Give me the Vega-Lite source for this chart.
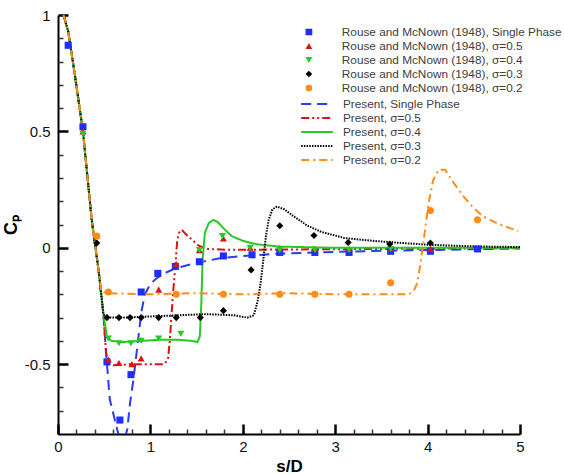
{
  "$schema": "https://vega.github.io/schema/vega-lite/v6.json",
  "width": 462,
  "height": 419,
  "autosize": "none",
  "padding": {"left": 58, "top": 15, "right": 44, "bottom": 40},
  "background": "white",
  "config": {"view": {"stroke": null}, "font": "Liberation Sans"},
  "datasets": {
    "curves": [
      {"series": "Present, Single Phase", "s": 0.06, "cp": 1.0},
      {"series": "Present, Single Phase", "s": 0.11, "cp": 0.93},
      {"series": "Present, Single Phase", "s": 0.18, "cp": 0.75},
      {"series": "Present, Single Phase", "s": 0.27, "cp": 0.5},
      {"series": "Present, Single Phase", "s": 0.31, "cp": 0.34},
      {"series": "Present, Single Phase", "s": 0.365, "cp": 0.12},
      {"series": "Present, Single Phase", "s": 0.44, "cp": -0.1},
      {"series": "Present, Single Phase", "s": 0.49, "cp": -0.28},
      {"series": "Present, Single Phase", "s": 0.52, "cp": -0.45},
      {"series": "Present, Single Phase", "s": 0.56, "cp": -0.65},
      {"series": "Present, Single Phase", "s": 0.64, "cp": -0.78},
      {"series": "Present, Single Phase", "s": 0.695, "cp": -0.86},
      {"series": "Present, Single Phase", "s": 0.75, "cp": -0.78},
      {"series": "Present, Single Phase", "s": 0.78, "cp": -0.665},
      {"series": "Present, Single Phase", "s": 0.815, "cp": -0.57},
      {"series": "Present, Single Phase", "s": 0.86, "cp": -0.42},
      {"series": "Present, Single Phase", "s": 0.9, "cp": -0.28},
      {"series": "Present, Single Phase", "s": 0.94, "cp": -0.2},
      {"series": "Present, Single Phase", "s": 1.0, "cp": -0.155},
      {"series": "Present, Single Phase", "s": 1.07, "cp": -0.13},
      {"series": "Present, Single Phase", "s": 1.15, "cp": -0.11},
      {"series": "Present, Single Phase", "s": 1.27, "cp": -0.088},
      {"series": "Present, Single Phase", "s": 1.5, "cp": -0.065},
      {"series": "Present, Single Phase", "s": 1.75, "cp": -0.045},
      {"series": "Present, Single Phase", "s": 2.0, "cp": -0.035},
      {"series": "Present, Single Phase", "s": 2.4, "cp": -0.025},
      {"series": "Present, Single Phase", "s": 3.0, "cp": -0.018},
      {"series": "Present, Single Phase", "s": 3.5, "cp": -0.013},
      {"series": "Present, Single Phase", "s": 4.0, "cp": -0.01},
      {"series": "Present, Single Phase", "s": 4.5, "cp": -0.006},
      {"series": "Present, Single Phase", "s": 5.0, "cp": -0.003},

      {"series": "Present, σ=0.5", "s": 0.06, "cp": 1.0},
      {"series": "Present, σ=0.5", "s": 0.11, "cp": 0.93},
      {"series": "Present, σ=0.5", "s": 0.18, "cp": 0.75},
      {"series": "Present, σ=0.5", "s": 0.27, "cp": 0.5},
      {"series": "Present, σ=0.5", "s": 0.31, "cp": 0.34},
      {"series": "Present, σ=0.5", "s": 0.365, "cp": 0.12},
      {"series": "Present, σ=0.5", "s": 0.44, "cp": -0.1},
      {"series": "Present, σ=0.5", "s": 0.49, "cp": -0.28},
      {"series": "Present, σ=0.5", "s": 0.52, "cp": -0.45},
      {"series": "Present, σ=0.5", "s": 0.545, "cp": -0.5},
      {"series": "Present, σ=0.5", "s": 0.6, "cp": -0.505},
      {"series": "Present, σ=0.5", "s": 0.8, "cp": -0.5},
      {"series": "Present, σ=0.5", "s": 1.0, "cp": -0.5},
      {"series": "Present, σ=0.5", "s": 1.15, "cp": -0.5},
      {"series": "Present, σ=0.5", "s": 1.19, "cp": -0.48},
      {"series": "Present, σ=0.5", "s": 1.21, "cp": -0.4},
      {"series": "Present, σ=0.5", "s": 1.24, "cp": -0.22},
      {"series": "Present, σ=0.5", "s": 1.27, "cp": -0.08},
      {"series": "Present, σ=0.5", "s": 1.29, "cp": 0.03},
      {"series": "Present, σ=0.5", "s": 1.31, "cp": 0.065},
      {"series": "Present, σ=0.5", "s": 1.34, "cp": 0.077},
      {"series": "Present, σ=0.5", "s": 1.38, "cp": 0.06},
      {"series": "Present, σ=0.5", "s": 1.45, "cp": 0.035},
      {"series": "Present, σ=0.5", "s": 1.52, "cp": 0.01},
      {"series": "Present, σ=0.5", "s": 1.6, "cp": -0.005},
      {"series": "Present, σ=0.5", "s": 1.8, "cp": -0.008},
      {"series": "Present, σ=0.5", "s": 2.2, "cp": -0.008},
      {"series": "Present, σ=0.5", "s": 3.0, "cp": -0.006},
      {"series": "Present, σ=0.5", "s": 4.0, "cp": -0.004},
      {"series": "Present, σ=0.5", "s": 5.0, "cp": -0.002},

      {"series": "Present, σ=0.4", "s": 0.06, "cp": 1.0},
      {"series": "Present, σ=0.4", "s": 0.11, "cp": 0.93},
      {"series": "Present, σ=0.4", "s": 0.18, "cp": 0.75},
      {"series": "Present, σ=0.4", "s": 0.27, "cp": 0.5},
      {"series": "Present, σ=0.4", "s": 0.31, "cp": 0.34},
      {"series": "Present, σ=0.4", "s": 0.365, "cp": 0.12},
      {"series": "Present, σ=0.4", "s": 0.44, "cp": -0.1},
      {"series": "Present, σ=0.4", "s": 0.49, "cp": -0.28},
      {"series": "Present, σ=0.4", "s": 0.53, "cp": -0.385},
      {"series": "Present, σ=0.4", "s": 0.58, "cp": -0.4},
      {"series": "Present, σ=0.4", "s": 0.7, "cp": -0.405},
      {"series": "Present, σ=0.4", "s": 0.9, "cp": -0.4},
      {"series": "Present, σ=0.4", "s": 1.1, "cp": -0.395},
      {"series": "Present, σ=0.4", "s": 1.3, "cp": -0.395},
      {"series": "Present, σ=0.4", "s": 1.45, "cp": -0.4},
      {"series": "Present, σ=0.4", "s": 1.51, "cp": -0.405},
      {"series": "Present, σ=0.4", "s": 1.535, "cp": -0.38},
      {"series": "Present, σ=0.4", "s": 1.55, "cp": -0.25},
      {"series": "Present, σ=0.4", "s": 1.565, "cp": -0.05},
      {"series": "Present, σ=0.4", "s": 1.59, "cp": 0.065},
      {"series": "Present, σ=0.4", "s": 1.63, "cp": 0.105},
      {"series": "Present, σ=0.4", "s": 1.68, "cp": 0.12},
      {"series": "Present, σ=0.4", "s": 1.73, "cp": 0.11},
      {"series": "Present, σ=0.4", "s": 1.8, "cp": 0.08},
      {"series": "Present, σ=0.4", "s": 1.88, "cp": 0.05},
      {"series": "Present, σ=0.4", "s": 2.0, "cp": 0.03},
      {"series": "Present, σ=0.4", "s": 2.15, "cp": 0.015},
      {"series": "Present, σ=0.4", "s": 2.4, "cp": 0.005},
      {"series": "Present, σ=0.4", "s": 3.0, "cp": 0.0},
      {"series": "Present, σ=0.4", "s": 4.0, "cp": 0.0},
      {"series": "Present, σ=0.4", "s": 5.0, "cp": 0.0},

      {"series": "Present, σ=0.3", "s": 0.06, "cp": 1.0},
      {"series": "Present, σ=0.3", "s": 0.11, "cp": 0.93},
      {"series": "Present, σ=0.3", "s": 0.18, "cp": 0.75},
      {"series": "Present, σ=0.3", "s": 0.27, "cp": 0.5},
      {"series": "Present, σ=0.3", "s": 0.31, "cp": 0.34},
      {"series": "Present, σ=0.3", "s": 0.365, "cp": 0.12},
      {"series": "Present, σ=0.3", "s": 0.44, "cp": -0.1},
      {"series": "Present, σ=0.3", "s": 0.49, "cp": -0.28},
      {"series": "Present, σ=0.3", "s": 0.51, "cp": -0.3},
      {"series": "Present, σ=0.3", "s": 0.7, "cp": -0.3},
      {"series": "Present, σ=0.3", "s": 1.0, "cp": -0.295},
      {"series": "Present, σ=0.3", "s": 1.3, "cp": -0.29},
      {"series": "Present, σ=0.3", "s": 1.6, "cp": -0.285},
      {"series": "Present, σ=0.3", "s": 1.9, "cp": -0.29},
      {"series": "Present, σ=0.3", "s": 2.05, "cp": -0.3},
      {"series": "Present, σ=0.3", "s": 2.12, "cp": -0.29},
      {"series": "Present, σ=0.3", "s": 2.16, "cp": -0.23},
      {"series": "Present, σ=0.3", "s": 2.19, "cp": -0.16},
      {"series": "Present, σ=0.3", "s": 2.22, "cp": -0.06},
      {"series": "Present, σ=0.3", "s": 2.25, "cp": 0.05},
      {"series": "Present, σ=0.3", "s": 2.28, "cp": 0.12},
      {"series": "Present, σ=0.3", "s": 2.32, "cp": 0.165},
      {"series": "Present, σ=0.3", "s": 2.37, "cp": 0.177},
      {"series": "Present, σ=0.3", "s": 2.45, "cp": 0.165},
      {"series": "Present, σ=0.3", "s": 2.55, "cp": 0.135},
      {"series": "Present, σ=0.3", "s": 2.7, "cp": 0.095},
      {"series": "Present, σ=0.3", "s": 2.85, "cp": 0.068},
      {"series": "Present, σ=0.3", "s": 3.1, "cp": 0.042},
      {"series": "Present, σ=0.3", "s": 3.4, "cp": 0.03},
      {"series": "Present, σ=0.3", "s": 3.6, "cp": 0.024},
      {"series": "Present, σ=0.3", "s": 4.0, "cp": 0.013},
      {"series": "Present, σ=0.3", "s": 4.5, "cp": 0.006},
      {"series": "Present, σ=0.3", "s": 5.0, "cp": 0.003},

      {"series": "Present, σ=0.2", "s": 0.06, "cp": 1.0},
      {"series": "Present, σ=0.2", "s": 0.11, "cp": 0.93},
      {"series": "Present, σ=0.2", "s": 0.18, "cp": 0.75},
      {"series": "Present, σ=0.2", "s": 0.27, "cp": 0.5},
      {"series": "Present, σ=0.2", "s": 0.31, "cp": 0.34},
      {"series": "Present, σ=0.2", "s": 0.365, "cp": 0.12},
      {"series": "Present, σ=0.2", "s": 0.44, "cp": -0.1},
      {"series": "Present, σ=0.2", "s": 0.47, "cp": -0.19},
      {"series": "Present, σ=0.2", "s": 0.55, "cp": -0.195},
      {"series": "Present, σ=0.2", "s": 1.0, "cp": -0.2},
      {"series": "Present, σ=0.2", "s": 1.5, "cp": -0.195},
      {"series": "Present, σ=0.2", "s": 2.0, "cp": -0.2},
      {"series": "Present, σ=0.2", "s": 2.5, "cp": -0.195},
      {"series": "Present, σ=0.2", "s": 3.0, "cp": -0.2},
      {"series": "Present, σ=0.2", "s": 3.5, "cp": -0.2},
      {"series": "Present, σ=0.2", "s": 3.8, "cp": -0.2},
      {"series": "Present, σ=0.2", "s": 3.85, "cp": -0.185},
      {"series": "Present, σ=0.2", "s": 3.89, "cp": -0.15},
      {"series": "Present, σ=0.2", "s": 3.93, "cp": -0.05},
      {"series": "Present, σ=0.2", "s": 3.97, "cp": 0.07},
      {"series": "Present, σ=0.2", "s": 4.01, "cp": 0.19},
      {"series": "Present, σ=0.2", "s": 4.06, "cp": 0.29},
      {"series": "Present, σ=0.2", "s": 4.12, "cp": 0.335},
      {"series": "Present, σ=0.2", "s": 4.19, "cp": 0.335},
      {"series": "Present, σ=0.2", "s": 4.28, "cp": 0.28},
      {"series": "Present, σ=0.2", "s": 4.39, "cp": 0.22},
      {"series": "Present, σ=0.2", "s": 4.5, "cp": 0.17},
      {"series": "Present, σ=0.2", "s": 4.6, "cp": 0.135},
      {"series": "Present, σ=0.2", "s": 4.78, "cp": 0.1},
      {"series": "Present, σ=0.2", "s": 4.98, "cp": 0.072}
    ],
    "pts": [
      {"series": "Rouse and McNown (1948), Single Phase", "s": 0.11, "cp": 0.87},
      {"series": "Rouse and McNown (1948), Single Phase", "s": 0.27, "cp": 0.52},
      {"series": "Rouse and McNown (1948), Single Phase", "s": 0.53, "cp": -0.49},
      {"series": "Rouse and McNown (1948), Single Phase", "s": 0.67, "cp": -0.74},
      {"series": "Rouse and McNown (1948), Single Phase", "s": 0.79, "cp": -0.545},
      {"series": "Rouse and McNown (1948), Single Phase", "s": 0.9, "cp": -0.19},
      {"series": "Rouse and McNown (1948), Single Phase", "s": 1.08, "cp": -0.11},
      {"series": "Rouse and McNown (1948), Single Phase", "s": 1.27, "cp": -0.08},
      {"series": "Rouse and McNown (1948), Single Phase", "s": 1.53, "cp": -0.06},
      {"series": "Rouse and McNown (1948), Single Phase", "s": 1.79, "cp": -0.035},
      {"series": "Rouse and McNown (1948), Single Phase", "s": 2.1, "cp": -0.03},
      {"series": "Rouse and McNown (1948), Single Phase", "s": 2.4, "cp": -0.02},
      {"series": "Rouse and McNown (1948), Single Phase", "s": 2.78, "cp": -0.02},
      {"series": "Rouse and McNown (1948), Single Phase", "s": 3.15, "cp": -0.02},
      {"series": "Rouse and McNown (1948), Single Phase", "s": 3.6, "cp": -0.015},
      {"series": "Rouse and McNown (1948), Single Phase", "s": 4.03, "cp": -0.015},
      {"series": "Rouse and McNown (1948), Single Phase", "s": 4.54, "cp": -0.005},

      {"series": "Rouse and McNown (1948), σ=0.5", "s": 0.27, "cp": 0.5},
      {"series": "Rouse and McNown (1948), σ=0.5", "s": 0.545, "cp": -0.48},
      {"series": "Rouse and McNown (1948), σ=0.5", "s": 0.66, "cp": -0.495},
      {"series": "Rouse and McNown (1948), σ=0.5", "s": 0.8, "cp": -0.5},
      {"series": "Rouse and McNown (1948), σ=0.5", "s": 0.9, "cp": -0.475},
      {"series": "Rouse and McNown (1948), σ=0.5", "s": 1.09, "cp": -0.18},
      {"series": "Rouse and McNown (1948), σ=0.5", "s": 1.28, "cp": -0.07},
      {"series": "Rouse and McNown (1948), σ=0.5", "s": 1.53, "cp": -0.01},
      {"series": "Rouse and McNown (1948), σ=0.5", "s": 1.79, "cp": 0.04},
      {"series": "Rouse and McNown (1948), σ=0.5", "s": 2.08, "cp": 0.0},
      {"series": "Rouse and McNown (1948), σ=0.5", "s": 2.4, "cp": -0.005},
      {"series": "Rouse and McNown (1948), σ=0.5", "s": 2.78, "cp": -0.005},
      {"series": "Rouse and McNown (1948), σ=0.5", "s": 3.15, "cp": -0.005},
      {"series": "Rouse and McNown (1948), σ=0.5", "s": 3.6, "cp": -0.005},
      {"series": "Rouse and McNown (1948), σ=0.5", "s": 4.03, "cp": -0.005},

      {"series": "Rouse and McNown (1948), σ=0.4", "s": 0.27, "cp": 0.49},
      {"series": "Rouse and McNown (1948), σ=0.4", "s": 0.545, "cp": -0.39},
      {"series": "Rouse and McNown (1948), σ=0.4", "s": 0.66, "cp": -0.41},
      {"series": "Rouse and McNown (1948), σ=0.4", "s": 0.79, "cp": -0.41},
      {"series": "Rouse and McNown (1948), σ=0.4", "s": 0.9, "cp": -0.4},
      {"series": "Rouse and McNown (1948), σ=0.4", "s": 1.09, "cp": -0.39},
      {"series": "Rouse and McNown (1948), σ=0.4", "s": 1.33, "cp": -0.37},
      {"series": "Rouse and McNown (1948), σ=0.4", "s": 1.53, "cp": -0.01},
      {"series": "Rouse and McNown (1948), σ=0.4", "s": 1.78, "cp": 0.05},
      {"series": "Rouse and McNown (1948), σ=0.4", "s": 2.08, "cp": 0.0},
      {"series": "Rouse and McNown (1948), σ=0.4", "s": 2.4, "cp": -0.01},
      {"series": "Rouse and McNown (1948), σ=0.4", "s": 2.78, "cp": -0.01},
      {"series": "Rouse and McNown (1948), σ=0.4", "s": 3.15, "cp": -0.01},
      {"series": "Rouse and McNown (1948), σ=0.4", "s": 3.6, "cp": -0.005},

      {"series": "Rouse and McNown (1948), σ=0.3", "s": 0.42, "cp": 0.02},
      {"series": "Rouse and McNown (1948), σ=0.3", "s": 0.53, "cp": -0.3},
      {"series": "Rouse and McNown (1948), σ=0.3", "s": 0.66, "cp": -0.3},
      {"series": "Rouse and McNown (1948), σ=0.3", "s": 0.78, "cp": -0.3},
      {"series": "Rouse and McNown (1948), σ=0.3", "s": 0.9, "cp": -0.3},
      {"series": "Rouse and McNown (1948), σ=0.3", "s": 1.09, "cp": -0.3},
      {"series": "Rouse and McNown (1948), σ=0.3", "s": 1.28, "cp": -0.3},
      {"series": "Rouse and McNown (1948), σ=0.3", "s": 1.54, "cp": -0.3},
      {"series": "Rouse and McNown (1948), σ=0.3", "s": 1.79, "cp": -0.27},
      {"series": "Rouse and McNown (1948), σ=0.3", "s": 2.09, "cp": -0.095},
      {"series": "Rouse and McNown (1948), σ=0.3", "s": 2.4, "cp": 0.095},
      {"series": "Rouse and McNown (1948), σ=0.3", "s": 2.77, "cp": 0.053},
      {"series": "Rouse and McNown (1948), σ=0.3", "s": 3.14, "cp": 0.023},
      {"series": "Rouse and McNown (1948), σ=0.3", "s": 3.59, "cp": 0.016},
      {"series": "Rouse and McNown (1948), σ=0.3", "s": 4.03, "cp": 0.02},

      {"series": "Rouse and McNown (1948), σ=0.2", "s": 0.42, "cp": 0.05},
      {"series": "Rouse and McNown (1948), σ=0.2", "s": 0.545, "cp": -0.19},
      {"series": "Rouse and McNown (1948), σ=0.2", "s": 1.28, "cp": -0.2},
      {"series": "Rouse and McNown (1948), σ=0.2", "s": 1.79, "cp": -0.2},
      {"series": "Rouse and McNown (1948), σ=0.2", "s": 2.4, "cp": -0.2},
      {"series": "Rouse and McNown (1948), σ=0.2", "s": 2.78, "cp": -0.2},
      {"series": "Rouse and McNown (1948), σ=0.2", "s": 3.15, "cp": -0.2},
      {"series": "Rouse and McNown (1948), σ=0.2", "s": 3.6, "cp": -0.15},
      {"series": "Rouse and McNown (1948), σ=0.2", "s": 4.03, "cp": 0.16},
      {"series": "Rouse and McNown (1948), σ=0.2", "s": 4.54, "cp": 0.12}
    ]
  },
  "layer": [
    {
      "data": {"name": "curves"},
      "mark": {"type": "line", "strokeWidth": 2, "clip": true},
      "encoding": {
        "x": {
          "field": "s", "type": "quantitative",
          "scale": {"domain": [0, 5], "nice": false, "zero": false},
          "axis": {
            "orient": "bottom", "values": [0, 1, 2, 3, 4, 5], "labelExpr": "toString(datum.value)",
            "grid": false, "ticks": true, "tickSize": -10, "tickWidth": 2.5, "tickColor": "#000",
            "domainColor": "#000", "domainWidth": 2, "labelFontSize": 15,
            "labelColor": "#111", "labelPadding": 15, "labelFlush": false,
            "title": "s/D", "titleFontSize": 17, "titleFontWeight": "bold",
            "titleColor": "#000", "titlePadding": 4
          }
        },
        "y": {
          "field": "cp", "type": "quantitative",
          "scale": {"domain": [-0.8, 1], "nice": false, "zero": false},
          "axis": {
            "orient": "left", "values": [-0.5, 0, 0.5, 1], "labelExpr": "toString(datum.value)",
            "grid": false, "ticks": true, "tickSize": -10, "tickWidth": 2.5, "tickColor": "#000",
            "domainColor": "#000", "domainWidth": 2, "labelFontSize": 15,
            "labelColor": "#111", "labelPadding": 18, "labelFlush": false,
            "title": "Cₚ", "titleFontSize": 18, "titleFontWeight": "bold",
            "titleColor": "#000", "titlePadding": 4
          }
        },
        "color": {
          "field": "series", "type": "nominal",
          "scale": {
            "domain": ["Present, Single Phase", "Present, σ=0.5", "Present, σ=0.4", "Present, σ=0.3", "Present, σ=0.2"],
            "range": ["#2a3cf0", "#dd1111", "#22cc22", "#000000", "#ff8c1a"]
          },
          "legend": {
            "orient": "none", "legendX": 242, "legendY": 83, "title": null, "padding": 0,
            "clipHeight": 12, "rowPadding": 1, "symbolType": "stroke", "symbolSize": 1000,
            "symbolStrokeWidth": 2, "labelOffset": 9, "labelFontSize": 11.8,
            "labelColor": "#404040", "labelLimit": 400
          }
        },
        "strokeDash": {
          "field": "series", "type": "nominal",
          "scale": {
            "domain": ["Present, Single Phase", "Present, σ=0.5", "Present, σ=0.4", "Present, σ=0.3", "Present, σ=0.2"],
            "range": [[10, 6], [8, 3, 2, 3, 2, 3], [1, 0], [1.5, 1.2], [8, 4, 2, 4]]
          }
        }
      }
    },
    {
      "data": {"name": "pts"},
      "mark": {"type": "point", "filled": true, "opacity": 1, "size": 50},
      "encoding": {
        "x": {
          "field": "s", "type": "quantitative",
          "scale": {"domain": [0, 5], "nice": false, "zero": false},
          "axis": {
            "orient": "bottom", "offset": -5,
            "values": [0.2, 0.4, 0.6, 0.8, 1.2, 1.4, 1.6, 1.8, 2.2, 2.4, 2.6, 2.8, 3.2, 3.4, 3.6, 3.8, 4.2, 4.4, 4.6, 4.8],
            "labels": false, "domain": false, "grid": false, "title": null,
            "ticks": true, "tickSize": 5, "tickWidth": 1.5, "tickColor": "#333"
          }
        },
        "y": {
          "field": "cp", "type": "quantitative",
          "scale": {"domain": [-0.8, 1], "nice": false, "zero": false},
          "axis": {
            "orient": "left", "offset": -5,
            "values": [-0.7, -0.6, -0.4, -0.3, -0.2, -0.1, 0.1, 0.2, 0.3, 0.4, 0.6, 0.7, 0.8, 0.9],
            "labels": false, "domain": false, "grid": false, "title": null,
            "ticks": true, "tickSize": 5, "tickWidth": 1.5, "tickColor": "#333"
          }
        },
        "color": {
          "field": "series", "type": "nominal",
          "scale": {
            "domain": ["Rouse and McNown (1948), Single Phase", "Rouse and McNown (1948), σ=0.5", "Rouse and McNown (1948), σ=0.4", "Rouse and McNown (1948), σ=0.3", "Rouse and McNown (1948), σ=0.2"],
            "range": ["#1f2eff", "#dd1111", "#22cc22", "#000000", "#ff8c1a"]
          },
          "legend": {
            "orient": "none", "legendX": 242, "legendY": 11, "title": null, "padding": 0,
            "clipHeight": 12, "rowPadding": 1, "symbolOffset": 3, "symbolSize": 45,
            "labelOffset": 27, "labelFontSize": 11.8,
            "labelColor": "#404040", "labelLimit": 400
          }
        },
        "shape": {
          "field": "series", "type": "nominal",
          "scale": {
            "domain": ["Rouse and McNown (1948), Single Phase", "Rouse and McNown (1948), σ=0.5", "Rouse and McNown (1948), σ=0.4", "Rouse and McNown (1948), σ=0.3", "Rouse and McNown (1948), σ=0.2"],
            "range": ["square", "triangle-up", "triangle-down", "diamond", "circle"]
          }
        }
      }
    }
  ],
  "resolve": {
    "scale": {"color": "independent", "shape": "independent", "strokeDash": "independent"},
    "axis": {"x": "independent", "y": "independent"},
    "legend": {"color": "independent"}
  }
}
